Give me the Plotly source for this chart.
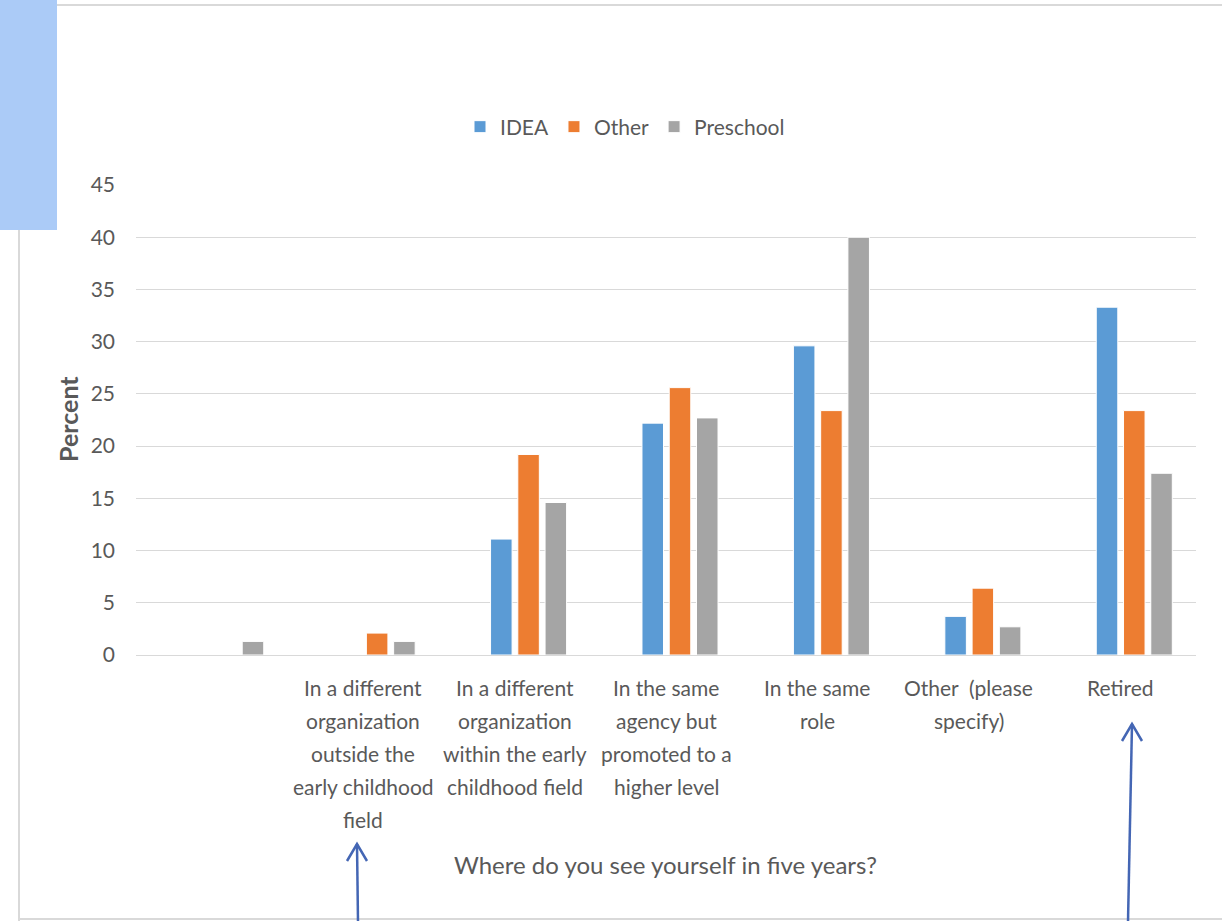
import plotly.graph_objects as go

categories = [" ",
              "In a different<br>organization<br>outside the<br>early childhood<br>field",
              "In a different<br>organization<br>within the early<br>childhood field",
              "In the same<br>agency but<br>promoted to a<br>higher level",
              "In the same<br>role",
              "Other  (please<br>specify)",
              "Retired"]
series_names = ["IDEA", "Other", "Preschool"]
idea = [0, 0, 11.1, 22.2, 29.6, 3.7, 33.3]
other = [0, 2.1, 19.2, 25.6, 23.4, 6.4, 23.4]
preschool = [1.3, 1.3, 14.6, 22.7, 40.0, 2.7, 17.4]
colors = ["#5B9BD5", "#ED7D31", "#A5A5A5"]
y_ticks = [0, 5, 10, 15, 20, 25, 30, 35, 40, 45]

W, H = 1222, 921
L, R, T, B = 136, 1196, 185, 655
FONT = "Lato"
TXT = "#595959"
SHIFT = 14 / ((R - L) / len(categories))  # Excel draws bar groups slightly right of the label centres

def px(x):
    return (x - L) / (R - L)

def py(y):
    return (B - y) / (B - T)

fig = go.Figure()
for name, vals, col in zip(series_names, [idea, other, preschool], colors):
    fig.add_trace(go.Bar(x=categories, y=vals, name=name,
                         marker=dict(color=col, line=dict(color="white", width=1))))

annotations = []
# category labels, one annotation per line for Excel-like line spacing
for cat in categories:
    for i, line in enumerate(cat.split("<br>")):
        annotations.append(dict(x=cat, xref="x", y=py(673 + 33 * i), yref="paper",
                                text=line, showarrow=False, xanchor="center", yanchor="top",
                                xshift=-14, font=dict(family=FONT, size=21, color=TXT)))
annotations.append(dict(x=px(665), y=py(864), xref="paper", yref="paper",
                        text="Where do you see yourself in five years?", showarrow=False,
                        xanchor="center", yanchor="middle",
                        font=dict(family=FONT, size=24, color=TXT)))
annotations.append(dict(x=px(68), y=py(419), xref="paper", yref="paper",
                        text="<b>Percent</b>", showarrow=False, textangle=-90,
                        xanchor="center", yanchor="middle",
                        font=dict(family=FONT, size=25, color=TXT)))

shapes = []
frame = "#D9D9D9"
shapes.append(dict(type="line", xref="paper", yref="paper", x0=px(18), x1=px(1222), y0=py(5), y1=py(5),
                   line=dict(color=frame, width=2)))
shapes.append(dict(type="line", xref="paper", yref="paper", x0=px(19), x1=px(19), y0=py(5), y1=py(921),
                   line=dict(color=frame, width=2)))
shapes.append(dict(type="line", xref="paper", yref="paper", x0=px(19), x1=px(1222), y0=py(919), y1=py(919),
                   line=dict(color=frame, width=2)))
shapes.append(dict(type="rect", xref="paper", yref="paper", x0=px(0), x1=px(57), y0=py(0), y1=py(230),
                   fillcolor="#ABCBF7", line=dict(width=0), layer="above"))

arrow_col = "#4466B4"
def arrow(tail, tip, w1, w2):
    shapes.append(dict(type="line", xref="paper", yref="paper", x0=px(tail[0]), y0=py(tail[1]),
                       x1=px(tip[0]), y1=py(tip[1]), line=dict(color=arrow_col, width=2.5)))
    path = "M {},{} L {},{} L {},{}".format(px(w1[0]), py(w1[1]), px(tip[0]), py(tip[1]), px(w2[0]), py(w2[1]))
    shapes.append(dict(type="path", xref="paper", yref="paper", path=path,
                       line=dict(color=arrow_col, width=2.5)))

arrow((358, 922), (357, 844), (347, 861), (367, 861))
arrow((1128, 922), (1132, 724), (1122, 741), (1142, 741))

fig.update_layout(
    width=W, height=H,
    margin=dict(l=L, r=W - R, t=T, b=H - B, autoexpand=False),
    paper_bgcolor="white", plot_bgcolor="white",
    barmode="group", bargap=0.46, bargroupgap=0.21,
    font=dict(family=FONT, color=TXT),
    showlegend=True,
    legend=dict(orientation="h", x=px(625), y=py(127), xanchor="center", yanchor="middle",
                font=dict(family=FONT, size=21, color=TXT), bgcolor="rgba(0,0,0,0)"),
    annotations=annotations,
    shapes=shapes,
    xaxis=dict(showticklabels=False, showgrid=False, showline=False, ticks="",
               categoryorder="array", categoryarray=categories,
               range=[-0.5 - SHIFT, len(categories) - 0.5 - SHIFT]),
    yaxis=dict(range=[0, 45], tickvals=y_ticks, showgrid=True, gridcolor="#D9D9D9", gridwidth=1.3,
               zeroline=True, zerolinecolor="#D9D9D9", zerolinewidth=1.3, showline=False,
               ticks="", ticklabelstandoff=20,
               tickfont=dict(family=FONT, size=21, color=TXT)),
)

fig.write_html("out.html")
